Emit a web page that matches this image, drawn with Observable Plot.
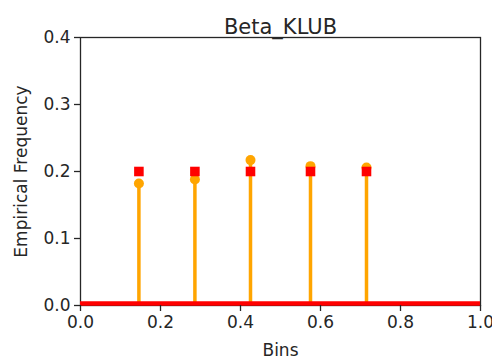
<!DOCTYPE html>
<html><head><meta charset="utf-8">
<script src="https://cdn.jsdelivr.net/npm/d3@7"></script>
<script src="https://cdn.jsdelivr.net/npm/@observablehq/plot@0.6"></script>
<style>body{margin:0;background:#fff;font-family:"DejaVu Sans",sans-serif;}</style>
</head><body><div id="chart"></div>
<script>
const title = "Beta_KLUB";
const bins = [0.146, 0.286, 0.425, 0.575, 0.715];
const empirical = [0.182, 0.188, 0.217, 0.208, 0.206];
const theoretical = [0.2, 0.2, 0.2, 0.2, 0.2];
const xTicks = [0, 0.2, 0.4, 0.6, 0.8, 1.0];
const yTicks = [0, 0.1, 0.2, 0.3, 0.4];

const data = bins.map((b, i) => ({x: b, emp: empirical[i], th: theoretical[i]}));

const chart = Plot.plot({
  width: 492, height: 359,
  marginTop: 37, marginBottom: 54, marginLeft: 80, marginRight: 12,
  style: {fontFamily: "DejaVu Sans, sans-serif", fontSize: "17px", color: "#262626", background: "#fff"},
  x: {domain: [0, 1]},
  y: {domain: [0, 0.4]},
  marks: [
    Plot.ruleX(data, {x: "x", y1: 0, y2: "emp", stroke: "#FFA500", strokeWidth: 3.5}),
    Plot.dot(data, {x: "x", y: "emp", r: 5, fill: "#FFA500", stroke: "none"}),
    Plot.dot(data, {x: "x", y: "th", r: 5.4, symbol: "square", fill: "#FF0000", stroke: "none"}),
    Plot.frame({stroke: "#262626", strokeWidth: 1.3}),
    Plot.ruleY([0], {x1: 0, x2: 1, stroke: "#FF0000", strokeWidth: 4.5, dy: -2}),
    Plot.axisX({ticks: xTicks, tickFormat: d3.format(".1f"), tickSize: 6, tickPadding: 4, strokeWidth: 1.3,
      label: "Bins", labelAnchor: "center", labelArrow: "none", labelOffset: 50}),
    Plot.axisY({ticks: yTicks, tickFormat: d3.format(".1f"), tickSize: 6, tickPadding: 4, strokeWidth: 1.3,
      label: "Empirical Frequency", labelAnchor: "center", labelArrow: "none", labelOffset: 66}),
    Plot.text([title], {frameAnchor: "top", dy: -18, fontSize: 21, fill: "#262626"})
  ]
});
document.getElementById("chart").appendChild(chart);
</script></body></html>
